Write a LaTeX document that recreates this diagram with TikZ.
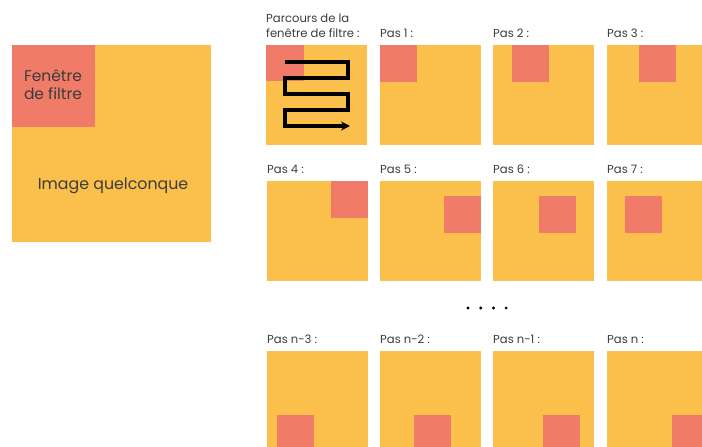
\documentclass[tikz,border=0pt]{standalone}
\usepackage{fontspec}
\setmainfont{Poppins}
\usetikzlibrary{arrows.meta}

\definecolor{imgorange}{HTML}{FBBF4B}
\definecolor{winred}{HTML}{EF7B68}
\definecolor{txtgray}{HTML}{3C3C3C}

\tikzset{
  image/.style={fill=imgorange},
  window/.style={fill=winred},
  steplabel/.style={anchor=base west, inner sep=0pt, text=txtgray,
    font=\fontsize{11.6}{14}\selectfont},
  track/.style={draw=black, line width=3.4pt, line join=miter,
    -{Stealth[length=9pt,width=9pt]}},
}

\begin{document}
\begin{tikzpicture}[x=1pt,y=-1pt]
\useasboundingbox (0,0) rectangle (702,447);
\clip (0,0) rectangle (702,447);

% Big image with its filter window
\fill[image] (12,45) rectangle (211,242);
\fill[window] (12,45) rectangle (95,127);
\node[text=txtgray, align=center, font=\fontsize{15.5}{18}\selectfont]
    (filtre) at (53,85) {Fenêtre\\de filtre};
\node[text=txtgray, font=\fontsize{15.8}{18}\selectfont]
    (image) at (113,186) {Image quelconque};

% Path of the window
\fill[image] (266,45) rectangle ++(101,100);
\fill[window] (266,45) rectangle ++(38,36);
\node[steplabel, align=left] (parcours) at (266,37)
    {Parcours de la\\fenêtre de filtre :};
\path[track]
    (285,62) -| (348,78) -| (285,94) -| (348,110) -| (285,126) -- (350,126);

% Steps
\foreach \px/\py/\wx/\wy/\lab [count=\i] in {
    380/45/0/0/{Pas 1 :}, 493/45/19/0/{Pas 2 :}, 607/45/32/0/{Pas 3 :},
    267/181/64/0/{Pas 4 :}, 380/181/64/15/{Pas 5 :},
    493/181/46/15/{Pas 6 :}, 607/181/18/15/{Pas 7 :},
    267/351/10/64/{Pas n-3 :}, 380/351/34/64/{Pas n-2 :},
    493/351/50/64/{Pas n-1 :}, 607/351/65/64/{Pas n :}}{
  \fill[image] (\px,\py) rectangle ++(101,100);
  \fill[window] (\px+\wx,\py+\wy) rectangle ++(37,37);
  \node[steplabel] (pas\i) at (\px,\py-8) {\lab};
}

% Dots
\foreach \dx in {0,...,3}
  \fill (468+12.7*\dx,308) circle (1.6);

\end{tikzpicture}
\end{document}
